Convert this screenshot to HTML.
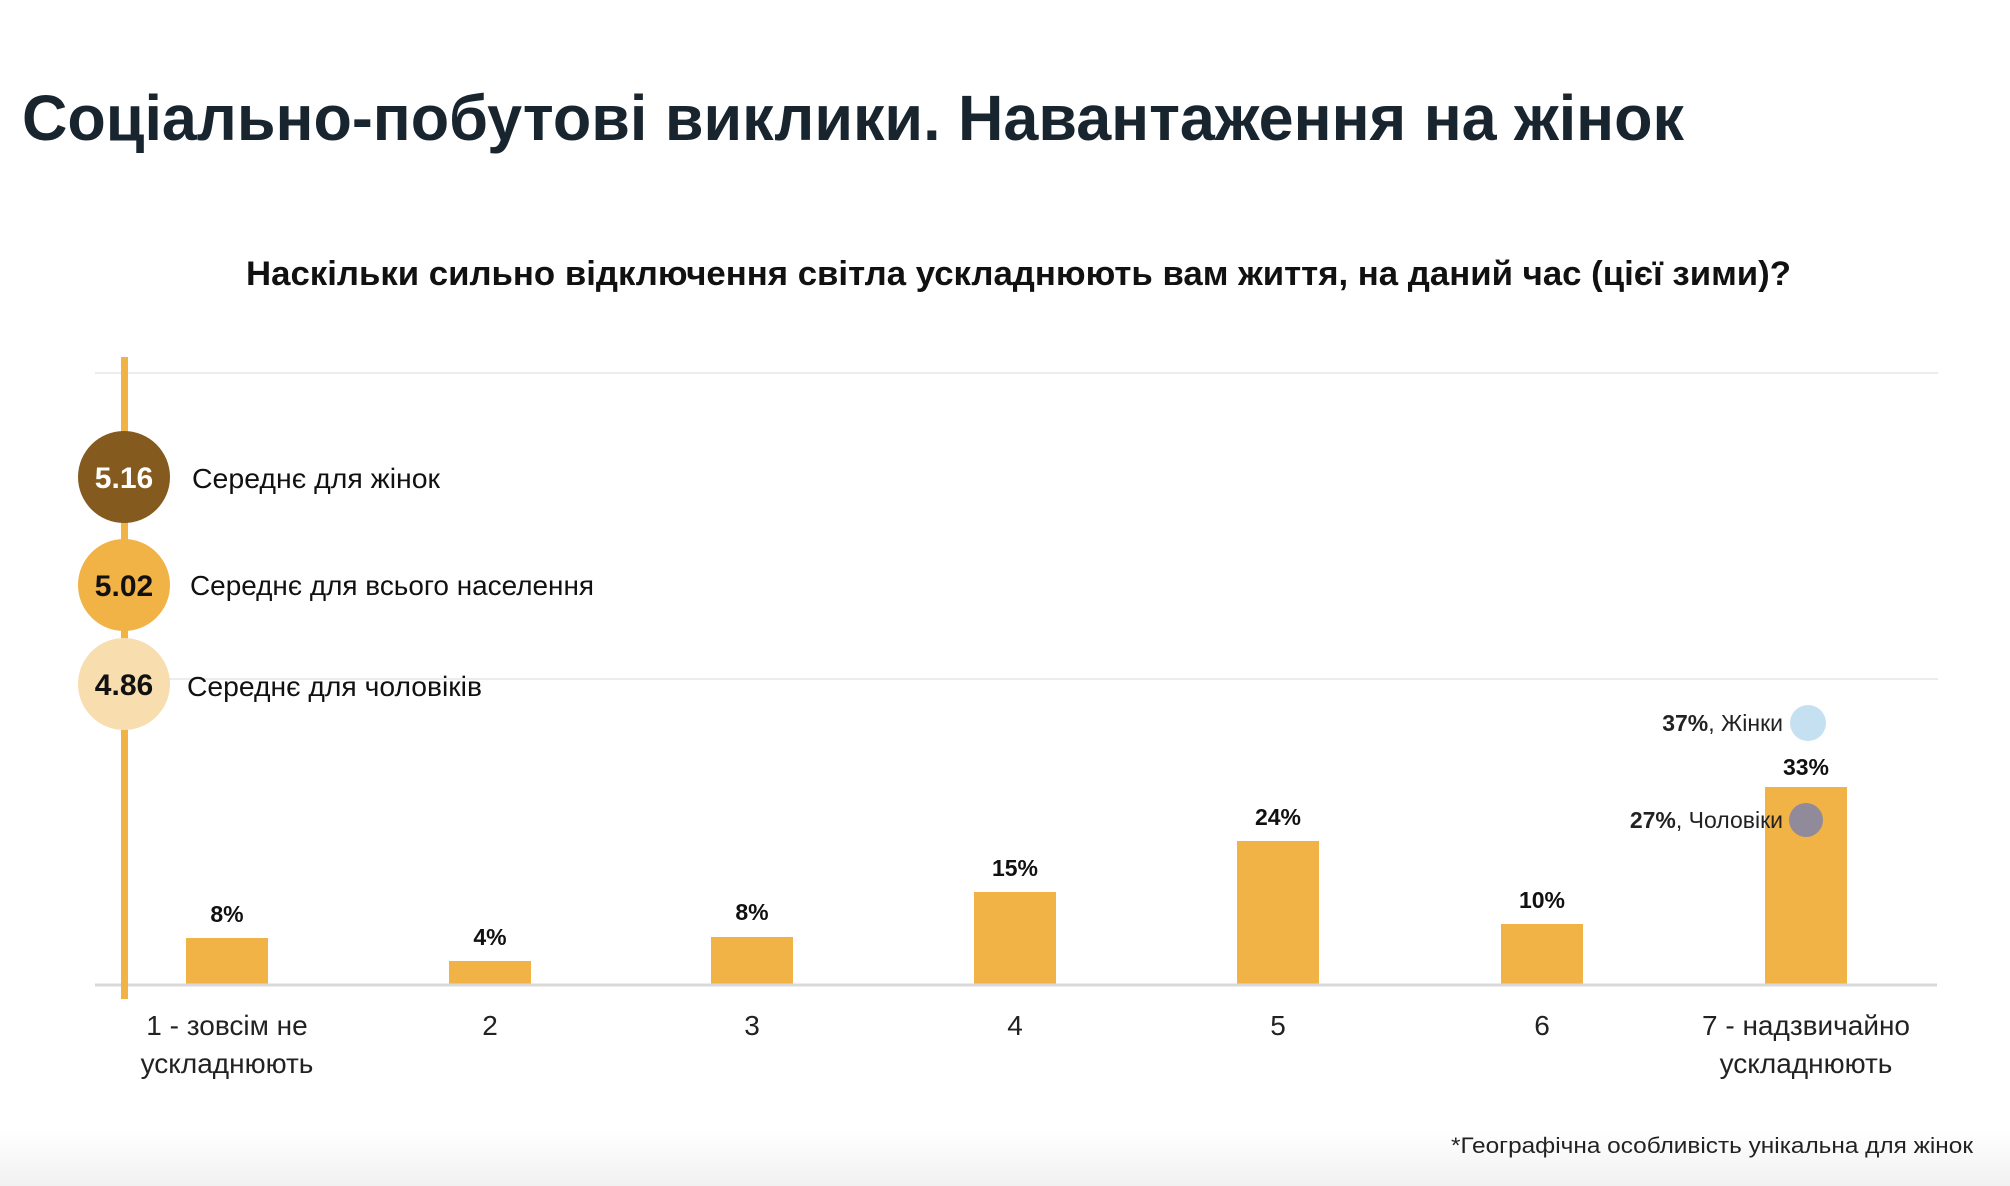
<!DOCTYPE html>
<html><head><meta charset="utf-8"><style>
html,body{margin:0;padding:0;background:#fff;}
svg{display:block;}
text{font-family:"Liberation Sans","DejaVu Sans",sans-serif;}
</style></head><body>
<svg width="2010" height="1186" viewBox="0 0 2010 1186" xmlns="http://www.w3.org/2000/svg">
<defs><linearGradient id="g" x1="0" y1="0" x2="0" y2="1"><stop offset="0" stop-color="#fff"/><stop offset="1" stop-color="#f1f1f1"/></linearGradient></defs>
<rect width="2010" height="1186" fill="#fff"/>
<rect y="1130" width="2010" height="56" fill="url(#g)"/>
<text x="22" y="140" font-size="64" font-weight="bold" fill="#18252f" textLength="1662" lengthAdjust="spacingAndGlyphs">Соціально-побутові виклики. Навантаження на жінок</text>
<text x="246" y="285" font-size="34" font-weight="bold" fill="#111" textLength="1545" lengthAdjust="spacingAndGlyphs">Наскільки сильно відключення світла ускладнюють вам життя, на даний час (цієї зими)?</text>
<line x1="95" y1="373" x2="1938" y2="373" stroke="#ececec" stroke-width="2"/>
<line x1="95" y1="679" x2="1938" y2="679" stroke="#ececec" stroke-width="2"/>
<g fill="#f1b246">
<rect x="186" y="938" width="82" height="46"/>
<rect x="449" y="961" width="82" height="23"/>
<rect x="711" y="937" width="82" height="47"/>
<rect x="974" y="892" width="82" height="92"/>
<rect x="1237" y="841" width="82" height="143"/>
<rect x="1501" y="924" width="82" height="60"/>
<rect x="1765" y="787" width="82" height="197"/>
</g>
<line x1="95" y1="985" x2="1937" y2="985" stroke="#d9d9d9" stroke-width="3"/>
<g font-size="23" font-weight="bold" fill="#111" text-anchor="middle">
<text x="227" y="922">8%</text><text x="490" y="945">4%</text><text x="752" y="920">8%</text>
<text x="1015" y="876">15%</text><text x="1278" y="825">24%</text><text x="1542" y="908">10%</text>
<text x="1806" y="775">33%</text>
</g>
<g font-size="28" fill="#222" text-anchor="middle">
<text x="227" y="1035">1 - зовсім не</text><text x="227" y="1073">ускладнюють</text>
<text x="490" y="1035">2</text><text x="752" y="1035">3</text><text x="1015" y="1035">4</text>
<text x="1278" y="1035">5</text><text x="1542" y="1035">6</text>
<text x="1806" y="1035">7 - надзвичайно</text><text x="1806" y="1073">ускладнюють</text>
</g>
<circle cx="1808" cy="723" r="18" fill="#c5e0f0"/>
<text x="1783" y="731" font-size="23" fill="#222" text-anchor="end"><tspan font-weight="bold">37%</tspan>, Жінки</text>
<circle cx="1806" cy="820" r="17" fill="#918a9a"/>
<text x="1783" y="828" font-size="23" fill="#222" text-anchor="end"><tspan font-weight="bold">27%</tspan>, Чоловіки</text>
<text x="1451" y="1153" font-size="22" fill="#222" textLength="522" lengthAdjust="spacingAndGlyphs">*Географічна особливість унікальна для жінок</text>
<rect x="121" y="357" width="7" height="642" fill="#f1b246"/>
<circle cx="124" cy="477" r="46" fill="#845a1e"/>
<circle cx="124" cy="585" r="46" fill="#f1b246"/>
<circle cx="124" cy="684" r="46" fill="#f8deaf"/>
<g font-size="30" font-weight="bold" text-anchor="middle">
<text x="124" y="488" fill="#fff">5.16</text>
<text x="124" y="596" fill="#111">5.02</text>
<text x="124" y="695" fill="#111">4.86</text>
</g>
<g font-size="28" fill="#111">
<text x="192" y="488" textLength="248" lengthAdjust="spacingAndGlyphs">Середнє для жінок</text>
<text x="190" y="595" textLength="404" lengthAdjust="spacingAndGlyphs">Середнє для всього населення</text>
<text x="187" y="696" textLength="295" lengthAdjust="spacingAndGlyphs">Середнє для чоловіків</text>
</g>
</svg>
</body></html>
